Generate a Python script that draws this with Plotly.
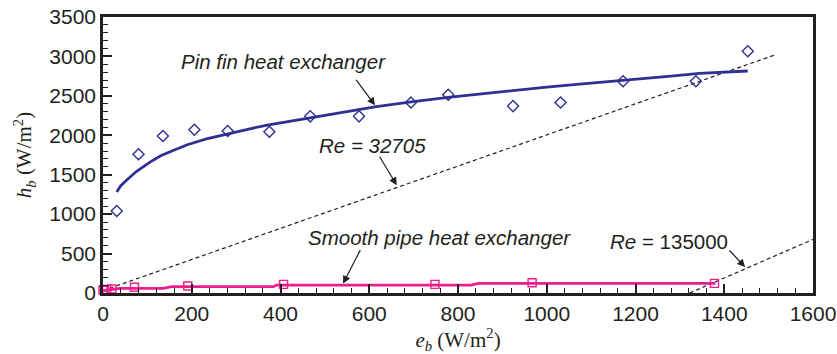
import plotly.graph_objects as go

# Pin fin heat exchanger: measured points (diamonds)
pin_x = [31, 80, 135, 206, 281, 375, 467, 577, 694, 778, 924, 1031, 1172, 1336, 1453]
pin_y = [1040, 1760, 1990, 2070, 2055, 2045, 2240, 2240, 2415, 2515, 2370, 2415, 2685, 2685, 3065]

# Pin fin heat exchanger: model curve
pin_line_x = [31, 40, 53, 75, 106, 130, 158, 190, 233, 280, 331, 370, 406, 460, 519, 570, 616, 660, 699,
              778, 850, 917, 1000, 1074, 1140, 1209, 1280, 1344, 1400, 1453]
pin_line_y = [1280, 1360, 1430, 1540, 1660, 1740, 1808, 1880, 1955, 2020, 2082, 2130, 2166, 2220, 2272,
              2320, 2364, 2400, 2427, 2482, 2525, 2566, 2610, 2650, 2680, 2714, 2750, 2785, 2805, 2815]

# Smooth pipe heat exchanger: measured points (squares)
pipe_x = [0, 3, 8, 20, 71, 191, 407, 748, 967, 1378]
pipe_y = [38, 35, 45, 50, 72, 88, 110, 110, 130, 122]

# Smooth pipe heat exchanger: model curve (stepped)
pipe_line_x = [0, 20, 38, 136, 155, 384, 391, 830, 845, 1380]
pipe_line_y = [30, 45, 59, 59, 80, 80, 101, 101, 122, 122]

# Reference lines
re1_x = [0, 1517]
re1_y = [30, 3025]
re2_x = [1322, 1600]
re2_y = [0, 680]

BLUE = "#2e3192"
PINK = "#ec1e8c"
INK = "#231f20"

fig = go.Figure()
fig.add_trace(go.Scatter(x=re1_x, y=re1_y, mode="lines",
                         line=dict(color=INK, width=1.2, dash="4px,3px"), showlegend=False))
fig.add_trace(go.Scatter(x=re2_x, y=re2_y, mode="lines",
                         line=dict(color=INK, width=1.2, dash="4px,3px"), showlegend=False))
fig.add_trace(go.Scatter(x=pin_line_x, y=pin_line_y, mode="lines",
                         line=dict(color=BLUE, width=2.8), showlegend=False))
fig.add_trace(go.Scatter(x=pin_x, y=pin_y, mode="markers", cliponaxis=False,
                         marker=dict(symbol="diamond-open", size=8.5, color=BLUE, line=dict(width=1.4)),
                         showlegend=False))
fig.add_trace(go.Scatter(x=pipe_line_x, y=pipe_line_y, mode="lines",
                         line=dict(color=PINK, width=2.8), showlegend=False))
fig.add_trace(go.Scatter(x=pipe_x, y=pipe_y, mode="markers", cliponaxis=False,
                         marker=dict(symbol="square-open", size=8, color=PINK, line=dict(width=1.4)),
                         showlegend=False))

tickfont = dict(family="Liberation Sans, Arial", size=21, color=INK)
titlefont = dict(family="Liberation Serif, Times New Roman", size=21, color=INK)

fig.update_xaxes(range=[0, 1600], tickvals=[0, 200, 400, 600, 800, 1000, 1200, 1400, 1600],
                 ticks="inside", ticklen=9, tickwidth=1.8, tickcolor=INK,
                 minor=dict(dtick=40, ticks="inside", ticklen=5, tickwidth=1.3, tickcolor=INK),
                 showline=True, linewidth=2.5, linecolor=INK, mirror=True, automargin=False,
                 showgrid=False, zeroline=False, tickfont=tickfont,
                 title=dict(text="<i>e</i><sub><i>b</i></sub> (W/m<sup>2</sup>)", font=titlefont, standoff=8))
fig.update_yaxes(range=[0, 3500], tickvals=[0, 500, 1000, 1500, 2000, 2500, 3000, 3500],
                 ticks="inside", ticklen=9, tickwidth=1.8, tickcolor=INK,
                 minor=dict(dtick=100, ticks="inside", ticklen=5, tickwidth=1.3, tickcolor=INK),
                 showline=True, linewidth=2.5, linecolor=INK, mirror=True, automargin=False,
                 showgrid=False, zeroline=False, tickfont=tickfont,
                 title=dict(text="<i>h</i><sub><i>b</i></sub> (W/m<sup>2</sup>)", font=titlefont, standoff=12))

afont = dict(family="Liberation Sans, Arial", size=20.5, color=INK)
texts = [
    ("<i>Pin fin heat exchanger</i>", 407, 2938),
    ("<i>Re = 32705</i>", 607, 1873),
    ("<i>Smooth pipe heat exchanger</i>", 758, 710),
    ("<i>Re</i> = 135000", 1275, 647),
]
for t, x, y in texts:
    fig.add_annotation(x=x, y=y, text=t, showarrow=False, font=afont, xanchor="center", yanchor="middle")

arrows = [
    (613, 2380, -20, -27),
    (662, 1366, -18, -30),
    (541, 119, 18, -35),
    (1447, 330, -17, -18),
]
for x, y, ax, ay in arrows:
    fig.add_annotation(x=x, y=y, ax=ax, ay=ay, text="", showarrow=True, arrowhead=2,
                       arrowsize=1.3, arrowwidth=1.2, arrowcolor=INK)

fig.update_layout(width=837, height=354, margin=dict(l=103, r=24, t=17, b=61),
                  plot_bgcolor="white", paper_bgcolor="white", showlegend=False)

fig.write_html("out.html")
